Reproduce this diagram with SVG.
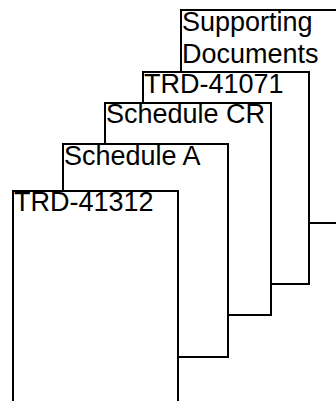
<svg xmlns="http://www.w3.org/2000/svg" width="336" height="401" viewBox="0 0 336 401">
<style>
.doc{fill:#fff;stroke:#000;stroke-width:2}
.lbl{font-family:"Liberation Sans",Arial,sans-serif;font-size:27px;fill:#000}
</style>
<rect width="336" height="401" fill="#fff"/>
<g id="connectors"></g>
<g id="supporting-documents">
<rect class="doc" x="181" y="10" width="166" height="213"/>
<text class="lbl" x="182" y="31">Supporting</text>
<text class="lbl" x="182" y="63">Documents</text>
</g>
<g id="trd-41071">
<rect class="doc" x="143" y="72" width="166" height="212"/>
<text class="lbl" x="144" y="93">TRD-41071</text>
</g>
<g id="schedule-cr">
<rect class="doc" x="105" y="103" width="166" height="212"/>
<text class="lbl" x="106" y="123">Schedule CR</text>
</g>
<g id="schedule-a">
<rect class="doc" x="63" y="144" width="165" height="213"/>
<text class="lbl" x="64" y="165">Schedule A</text>
</g>
<g id="trd-41312">
<rect class="doc" x="13" y="191" width="165" height="213"/>
<text class="lbl" x="14" y="211">TRD-41312</text>
</g>
</svg>
